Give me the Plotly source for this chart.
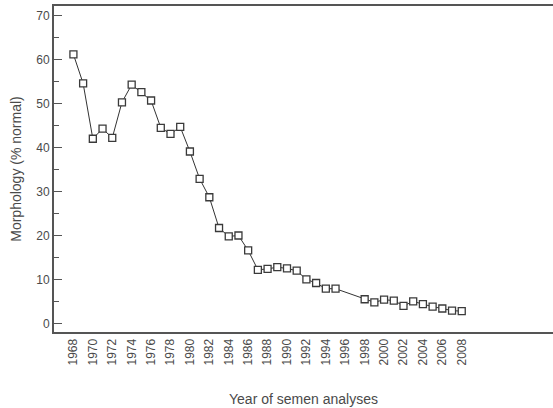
import plotly.graph_objects as go

years = [1968, 1969, 1970, 1971, 1972, 1973, 1974, 1975, 1976, 1977, 1978, 1979,
         1980, 1981, 1982, 1983, 1984, 1985, 1986, 1987, 1988, 1989, 1990, 1991,
         1992, 1993, 1994, 1995, 1998, 1999, 2000, 2001, 2002, 2003, 2004, 2005,
         2006, 2007, 2008]
morphology = [61.2, 54.6, 42.0, 44.3, 42.2, 50.3, 54.3, 52.6, 50.7, 44.5, 43.1, 44.7,
              39.1, 32.9, 28.7, 21.7, 19.8, 20.0, 16.6, 12.2, 12.4, 12.8, 12.5, 12.0,
              10.0, 9.2, 7.9, 7.9, 5.5, 4.8, 5.4, 5.2, 4.0, 5.0, 4.4, 3.8,
              3.4, 2.9, 2.8]
tick_years = list(range(1968, 2009, 2))
tick_text = [str(y) for y in tick_years]

fig = go.Figure()
fig.add_trace(go.Scatter(
    x=years, y=morphology, mode="lines+markers",
    line=dict(color="#333333", width=1),
    marker=dict(symbol="square", size=7, color="white",
                line=dict(width=1.3, color="#3a3a3a")),
    showlegend=False,
))

font_family = "Liberation Sans, Arial, sans-serif"
fig.update_layout(
    width=553, height=408,
    margin=dict(l=54, r=0, t=6, b=76),
    paper_bgcolor="white", plot_bgcolor="white",
    font=dict(family=font_family, color="#4a4a4a", size=12),
    xaxis=dict(
        range=[1966.0, 2017.4],
        tickmode="array", tickvals=tick_years, ticktext=tick_text,
        tickangle=-90, ticks="", showgrid=False, zeroline=False,
        showline=True, linecolor="#555555", linewidth=2, mirror=True,
        tickfont=dict(size=12, color="#4a4a4a"),
        title=dict(text="Year of semen analyses", font=dict(size=14, color="#4a4a4a"), standoff=30),
        automargin=False,
    ),
    yaxis=dict(
        range=[-1.95, 72.2],
        tickmode="linear", tick0=0, dtick=10,
        ticks="inside", ticklen=8, tickwidth=1, tickcolor="#555555",
        minor=dict(dtick=5, tick0=0, ticks="inside", ticklen=5, tickcolor="#555555"),
        showgrid=False, zeroline=False,
        showline=True, linecolor="#555555", linewidth=2,
        tickfont=dict(size=12, color="#4a4a4a"),
        title=dict(text="Morphology (% normal)", font=dict(size=14, color="#4a4a4a"), standoff=11),
        automargin=False,
    ),
)

fig.write_html("out.html", config={"displayModeBar": False},
               post_script="document.body.style.margin='0';document.body.style.overflow='hidden';")
